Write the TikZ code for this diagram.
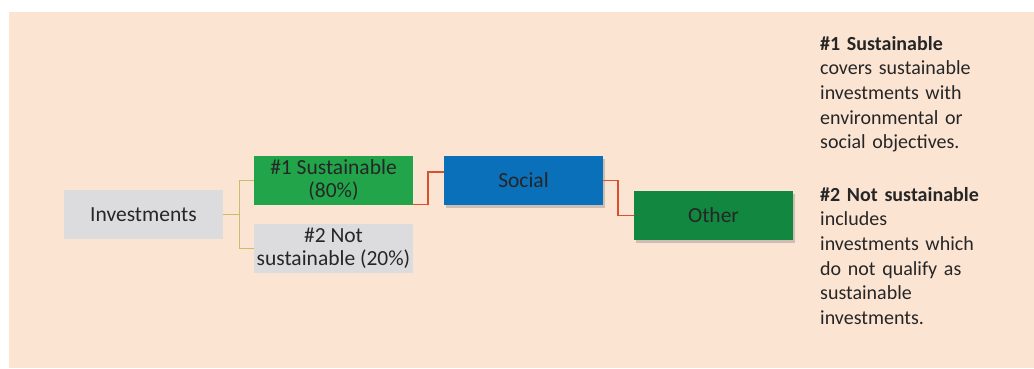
\documentclass[tikz,border=0pt]{standalone}
\usepackage{fontspec}
\setmainfont{Carlito}
\usetikzlibrary{shadows,calc}
\definecolor{peach}{HTML}{FCE4D3}
\definecolor{boxgray}{HTML}{DCDCDE}
\definecolor{greenA}{HTML}{21A44A}
\definecolor{blueS}{HTML}{0B70BA}
\definecolor{greenO}{HTML}{128740}
\definecolor{olive}{HTML}{C5BE6B}
\definecolor{redline}{HTML}{D9502E}
\definecolor{txt}{HTML}{262626}
\begin{document}
\begin{tikzpicture}[x=1pt,y=1pt,
  box/.style={rectangle, minimum width=159pt, minimum height=49pt, inner sep=2pt,
    align=center, text=txt, font=\fontsize{21.5}{23}\selectfont},
  shad/.style={drop shadow={shadow xshift=2pt, shadow yshift=-3pt, opacity=0.3, fill=black!60}},
  olivelink/.style={draw=olive, line width=1.2pt},
  redlink/.style={draw=redline, line width=1.5pt},
  side/.style={anchor=north west, inner sep=0pt, align=left, text width=200pt, text=txt,
    font=\fontsize{20}{24.6}\selectfont}]
\useasboundingbox (0,0) rectangle (1034,368);
\fill[peach] (9,0) rectangle (1034,356);
\node[box, fill=boxgray] (inv) at (143.5,153.5) {Investments};
\node[box, fill=greenA] (s1) at (333.5,187.5) {\#1 Sustainable\\(80\%)};
\node[box, fill=boxgray] (s2) at (333.5,119.5) {\#2 Not\\sustainable (20\%)};
\node[box, fill=blueS, shad] (soc) at (523.5,187.5) {Social};
\node[box, fill=greenO, shad] (oth) at (713.5,152.5) {Other};
\draw[olivelink] (inv.east) -- ++(16,0) |- (s1.west);
\draw[olivelink] (inv.east) -- ++(16,0) |- (s2.west);
\draw[redlink] ($(s1.east)+(0,-24)$) -- ++(15,0) |- ($(soc.west)+(0,8.5)$);
\draw[redlink] (soc.east) -- ++(15,0) |- (oth.west);
\node[side] (t1) at (820,332) {\textbf{\#1 Sustainable}\\covers sustainable\\investments with\\environmental or\\social objectives.};
\node[side] (t2) at (820,181) {\textbf{\#2 Not sustainable}\\includes\\investments which\\do not qualify as\\sustainable\\investments.};
\end{tikzpicture}
\end{document}
